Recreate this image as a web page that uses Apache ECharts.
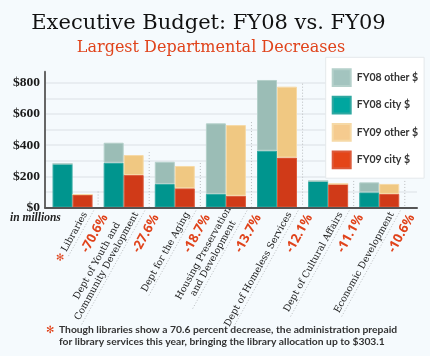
<!DOCTYPE html>
<html><head><meta charset="utf-8">
<script src="https://cdn.jsdelivr.net/npm/echarts@6/dist/echarts.min.js"></script>
<style>html,body{margin:0;padding:0;background:#f5fafd}#c{width:430px;height:356px}</style>
</head><body><div id="c"></div>
<script>
// ---- data ----
const categories = ['Libraries', 'Dept of Youth and\nCommunity Development', 'Dept for the Aging', 'Housing Preservation\nand Development', 'Dept of Homeless Services', 'Dept of Cultural Affairs', 'Economic Development'];
const pctChange = ['-70.6%', '-27.6%', '-18.7%', '-13.7%', '-12.1%', '-11.1%', '-10.6%'];
const fy08City = [280, 287, 151, 87, 364, 170, 97];
const fy08Other = [0, 128, 142, 452, 453, 0, 64];
const fy09City = [83, 208, 123, 75, 320, 151, 87];
const fy09Other = [0, 128, 143, 453, 454, 0, 64];
const yTickLabels = ['$0', '$200', '$400', '$600', '$800'];
const seriesNames = ['FY08 other $', 'FY08 city $', 'FY09 other $', 'FY09 city $'];
const titleText = 'Executive Budget: FY08 vs. FY09';
const subtitleText = 'Largest Departmental Decreases';
const unitText = 'in millions';
const noteLines = ['Though libraries show a 70.6 percent decrease, the administration prepaid', 'for library services this year, bringing the library allocation up to $303.1'];

// ---- styling helpers ----
const RED = '#e0431b';
const TH = 61 * Math.PI / 180;
const ux = Math.cos(TH), uy = -Math.sin(TH);
const upx = -Math.sin(TH), upy = -Math.cos(TH);
const nameFont = '9.5px "DejaVu Serif"';
const pctFont = 'bold 13px "Open Sans"';
const mctx = document.createElement('canvas').getContext('2d');
function textW(t, font) { mctx.font = font; return Math.max.apply(null, t.split('\n').map(s => mctx.measureText(s).width)); }

const fy09Total = fy09City.map((v, i) => v + fy09Other[i]);

const chart = echarts.init(document.getElementById('c'), null, {renderer: 'canvas'});
chart.setOption({
  backgroundColor: '#f5fafd',
  animation: false,
  grid: [
    {left: 47, right: 25.2, top: 71.7, bottom: 148.5},
    {left: 45, right: 13, top: 82.7, bottom: 148.5}
  ],
  xAxis: [
    {type: 'category', gridIndex: 0, data: categories, axisLine: {show: false}, axisTick: {show: false}, axisLabel: {show: false}},
    {type: 'category', gridIndex: 1, data: categories, z: 10, axisLine: {show: true, lineStyle: {color: '#555', width: 2}}, axisTick: {show: false}, axisLabel: {show: false}}
  ],
  yAxis: [
    {type: 'value', gridIndex: 0, min: 0, max: 870, offset: 2, z: 10, axisLine: {show: true, lineStyle: {color: '#666', width: 2}}, axisTick: {show: false}, axisLabel: {show: false}, splitLine: {show: false}},
    {type: 'value', gridIndex: 1, min: 0, max: 800, interval: 100, axisLine: {show: false}, axisTick: {show: false},
      splitLine: {show: true, lineStyle: {color: '#e3e8ec', width: 1.5}},
      axisLabel: {margin: 5, color: '#1a1a1a', fontFamily: 'Liberation Serif', fontWeight: 'bold', fontSize: 13.5,
        formatter: v => (v % 200 === 0 ? yTickLabels[v / 200] : '')}}
  ],
  legend: {
    orient: 'vertical', left: 325.7, top: 57.3,
    padding: [11, 6, 9, 6], itemWidth: 18, itemHeight: 16.7, itemGap: 8.7,
    backgroundColor: '#ffffff', borderColor: '#e4e8eb', borderWidth: 1,
    icon: 'rect', selectedMode: false,
    textStyle: {fontFamily: 'Lato', fontWeight: 'bold', fontSize: 10.5, color: '#333', padding: [0, 0, 0, 1]},
    data: [
      {name: seriesNames[0], itemStyle: {color: '#a3c4bf'}},
      {name: seriesNames[1], itemStyle: {color: '#00a69f'}},
      {name: seriesNames[2], itemStyle: {color: '#f5cb8f'}},
      {name: seriesNames[3], itemStyle: {color: '#e44518'}}
    ]
  },
  graphic: [
    {type: 'text', x: 208.5, y: 24, style: {text: titleText, font: '21px "DejaVu Serif"', fill: '#111', align: 'center', verticalAlign: 'middle'}},
    {type: 'text', x: 211, y: 47.5, style: {text: subtitleText, font: '16px "DejaVu Serif"', fill: RED, align: 'center', verticalAlign: 'middle'}},
    {type: 'text', x: 10, y: 218, style: {text: unitText, font: 'italic bold 11.5px "Liberation Serif"', fill: '#222', verticalAlign: 'middle'}},
    {type: 'text', x: 46, y: 330, style: {text: '\u273B', font: 'bold 10px "DejaVu Sans"', fill: RED, verticalAlign: 'middle'}},
    {type: 'text', x: 59, y: 324, style: {text: noteLines.join('\n'), font: 'bold 10.3px Lato', fill: '#333', lineHeight: 11.5}}
  ],
  series: [
    {name: seriesNames[1], type: 'bar', stack: 'fy08', data: fy08City, barWidth: 20, barGap: '0%', itemStyle: {color: '#00958e', borderColor: '#2fa8a1', borderWidth: 1}},
    {name: seriesNames[0], type: 'bar', stack: 'fy08', data: fy08Other, barWidth: 20, barGap: '0%', itemStyle: {color: '#9bbdb6', borderColor: '#b4d0ca', borderWidth: 1}},
    {name: seriesNames[3], type: 'bar', stack: 'fy09', data: fy09City, barWidth: 20, barGap: '0%', itemStyle: {color: '#d03a18', borderColor: '#dc5a3a', borderWidth: 1}},
    {name: seriesNames[2], type: 'bar', stack: 'fy09', data: fy09Other, barWidth: 20, barGap: '0%', itemStyle: {color: '#f0c882', borderColor: '#f6d9a6', borderWidth: 1}},
    {
      type: 'custom', name: 'labels', z: 5, clip: false, silent: true,
      data: categories.map((c, i) => [i, fy09Total[i]]),
      renderItem: function (params, api) {
        const i = api.value(0);
        const base = api.coord([i, 0]);
        const band = api.size([1, 0])[0];
        const bx = base[0] + band / 2;
        const top = api.coord([i, api.value(1)])[1] - 3;
        const ox = bx - 3, oy = base[1] + 0.5;
        const w = textW(categories[i], nameFont);
        const an = 9, gn = 0.8;
        const nx = ox - (an + w / 2) * ux + gn * upx;
        const ny = oy - (an + w / 2) * uy + gn * upy;
        const ap = 1.5, gp = 5.5;
        const px = ox - ap * ux - gp * upx;
        const py = oy - ap * uy - gp * upy;
        const L = w + an + 3;
        const dot = {stroke: '#b9bcbf', lineWidth: 1, lineDash: [1, 2]};
        const children = [
          {type: 'line', shape: {x1: bx, y1: top, x2: bx, y2: base[1] - 1}, style: dot},
          {type: 'line', shape: {x1: ox, y1: oy, x2: ox - L * ux, y2: oy - L * uy}, style: dot},
          {type: 'text', x: nx, y: ny, rotation: TH, style: {text: categories[i], font: nameFont, fill: '#1a1a1a', align: 'center', verticalAlign: 'bottom', lineHeight: 11}},
          {type: 'text', x: px, y: py, rotation: TH, style: {text: pctChange[i], font: pctFont, fill: RED, align: 'right', verticalAlign: 'top'}}
        ];
        if (i === 0) {
          const sa = an + w + 3;
          children.push({type: 'text', x: ox - sa * ux + gn * upx, y: oy - sa * uy + gn * upy, rotation: TH,
            style: {text: '\u273B', font: '10px "DejaVu Sans"', fill: RED, align: 'right', verticalAlign: 'bottom'}});
        }
        return {type: 'group', children: children};
      }
    }
  ]
});
</script></body></html>
